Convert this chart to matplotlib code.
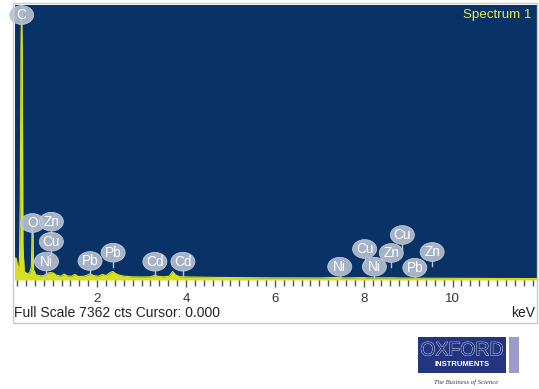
import matplotlib
matplotlib.use('Agg')
from matplotlib import pyplot as plt
from matplotlib.patches import Ellipse, Rectangle
from matplotlib.ticker import MultipleLocator
import matplotlib.patheffects as pe

plt.rcParams['font.family'] = ['Liberation Sans', 'DejaVu Sans']

# spectrum trace (keV, counts)
energy = [0.14, 0.18, 0.20, 0.22, 0.25, 0.27, 0.285, 0.30, 0.315, 0.33, 0.36,
          0.42, 0.48, 0.52, 0.535, 0.545, 0.555, 0.57, 0.62, 0.72, 0.80,
          0.86, 0.93, 1.01, 1.08, 1.18, 1.26, 1.32, 1.42, 1.50, 1.58, 1.70,
          1.78, 1.84, 1.92, 2.02, 2.12, 2.20, 2.28, 2.35, 2.42, 2.50, 2.62,
          2.80, 3.00, 3.20, 3.30, 3.36, 3.50, 3.62, 3.70, 3.76, 3.85, 4.10,
          4.60, 5.20, 6.00, 7.00, 7.45, 7.55, 8.00, 8.10, 8.60, 9.00, 10.00,
          11.00, 11.90]
counts = [600, 580, 420, 250, 500, 2200, 6200, 7362, 6000, 900, 230,
          170, 190, 350, 1350, 1480, 1250, 280, 140, 110, 120,
          170, 200, 190, 130, 100, 160, 110, 100, 150, 90, 100,
          130, 170, 120, 100, 150, 120, 190, 230, 170, 130, 100,
          85, 80, 85, 130, 100, 85, 100, 230, 140, 90, 80,
          70, 65, 58, 55, 70, 55, 65, 55, 60, 50, 45,
          40, 38]
full_scale = 7362

# element markers: name, line energy (keV), marker height (counts)
line_names = ['C', 'O', 'Zn', 'Cu', 'Ni', 'Pb', 'Pb', 'Cd', 'Cd',
              'Ni', 'Cu', 'Ni', 'Zn', 'Cu', 'Pb', 'Zn']
line_energy = [0.30, 0.545, 0.97, 0.97, 0.86, 1.84, 2.36, 3.30, 3.93,
               7.46, 8.02, 8.24, 8.62, 8.87, 9.15, 9.54]
marker_height = [7094, 1526, 1561, 1025, 495, 509, 731, 490, 490,
                 356, 830, 356, 723, 1205, 329, 750]

W, H = 539, 389
fig = plt.figure(figsize=(W / 100, H / 100), dpi=100)


def fx(px):
    return px / W


def fy(py):
    return 1 - py / H


# outer frame
fig.patches.append(Rectangle((fx(13), fy(323)), fx(537) - fx(13), fy(3) - fy(323),
                             transform=fig.transFigure, fill=False,
                             ec='#c5cad3', lw=1))

ax = fig.add_axes([fx(14.5), fy(280), fx(537) - fx(14.5), fy(5) - fy(280)])
ax.set_facecolor('#093366')
ax.set_xlim(0.14, 11.9)
ax.set_ylim(0, full_scale)

yellow = '#d7df23'
ax.fill_between(energy, counts, color=yellow, lw=0)
ax.plot(energy, counts, color=yellow, lw=0.8)

bw = 0.54     # keV
bh = 500      # counts
for name, e, h in zip(line_names, line_energy, marker_height):
    if name != 'C':
        ax.plot([e, e], [h - bh / 2, h - bh / 2 - 130], color='#b8c2d2', lw=1)
    ax.add_patch(Ellipse((e, h), bw, bh, fc='#b4bfd0', ec='#c9d1dd', lw=0.6,
                         alpha=0.92, clip_on=False, zorder=5))
    ax.text(e, h, name, color='white', fontsize=9.8, ha='center', va='center',
            zorder=6, clip_on=False)

ax.text(fx(531), fy(15), 'Spectrum 1', transform=fig.transFigure,
        color='#e6e84a', fontsize=9.6, ha='right', va='center')

ax.set_yticks([])
ax.set_xticks([2, 4, 6, 8, 10])
ax.xaxis.set_minor_locator(MultipleLocator(0.2))
ax.tick_params(axis='x', which='major', length=5, width=1, color='#555555',
               labelsize=9.5, labelcolor='#333333', pad=4.5)
ax.tick_params(axis='x', which='minor', length=4, width=1, color='#555555')
for s in ax.spines.values():
    s.set_visible(False)

fig.text(fx(14), fy(313), 'Full Scale 7362 cts Cursor: 0.000', fontsize=10,
         color='#222222', va='center', ha='left')
fig.text(fx(535), fy(313), 'keV', fontsize=10, color='#222222',
         va='center', ha='right')

# logo
fig.patches.append(Rectangle((fx(418), fy(373)), fx(506) - fx(418), fy(337) - fy(373),
                             transform=fig.transFigure, fc='#233580', ec='none'))
fig.patches.append(Rectangle((fx(509), fy(373)), fx(519) - fx(509), fy(337) - fy(373),
                             transform=fig.transFigure, fc='#9c9ccc', ec='none'))
fig.text(fx(462), fy(351), 'OXFORD', fontsize=14, color='#233580',
         ha='center', va='center',
         path_effects=[pe.withStroke(linewidth=0.6, foreground='#e8ecf5')])
fig.text(fx(462), fy(364), 'INSTRUMENTS', fontsize=5.5, color='white',
         fontweight='bold', ha='center', va='center')
fig.text(fx(466), fy(382), 'The Business of Science', fontsize=4.8,
         color='#333333', ha='center', va='center', style='italic',
         family=['Liberation Serif', 'DejaVu Serif'])

fig.savefig('out.png', dpi=100)
